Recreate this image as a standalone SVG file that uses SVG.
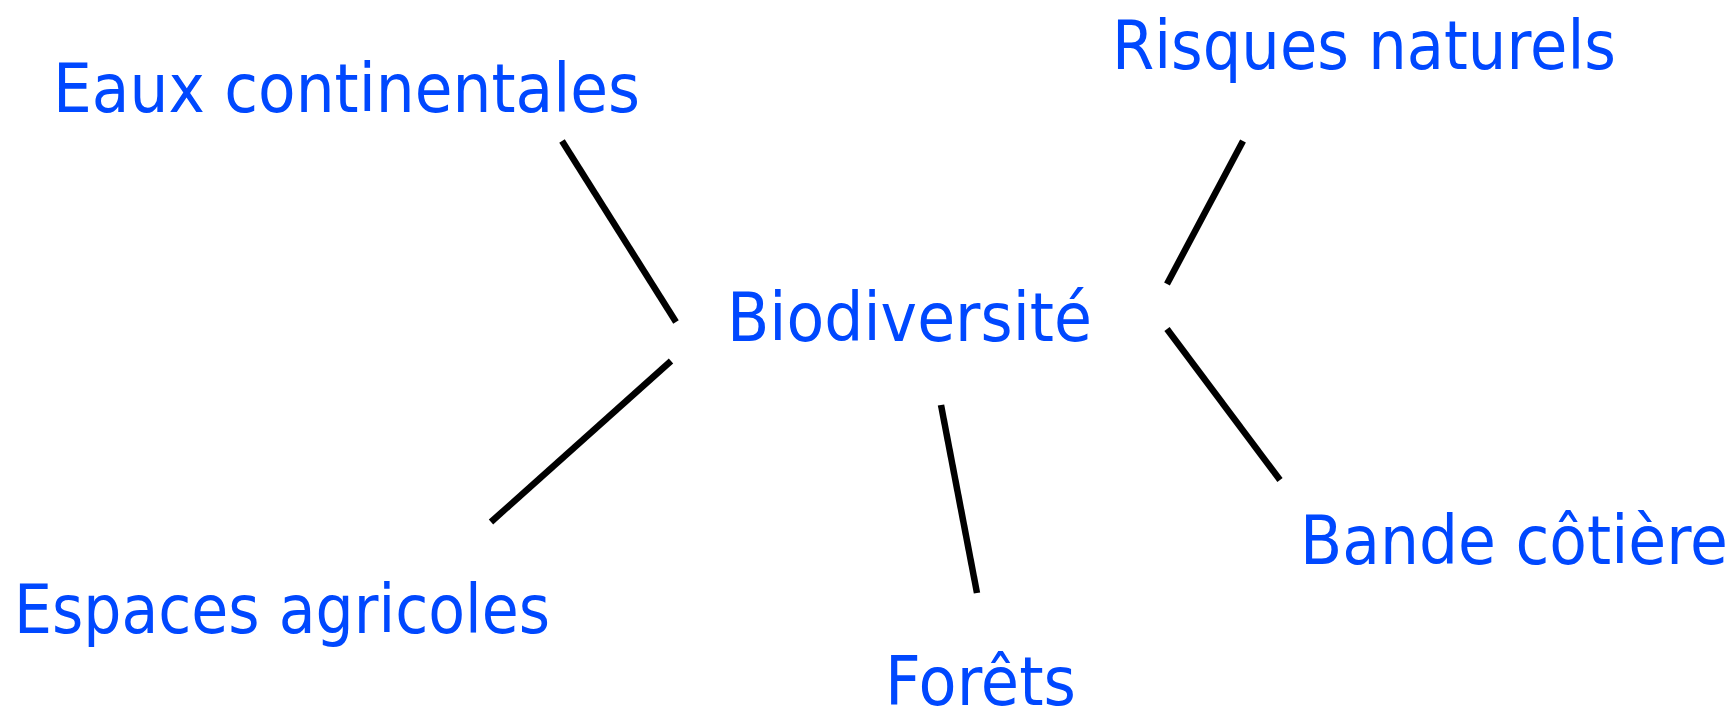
<svg xmlns="http://www.w3.org/2000/svg" width="1735" height="712" viewBox="0 0 1735 712">
<style>
.lbl{font-family:"DejaVu Sans","Liberation Sans",sans-serif;font-size:67px;fill:#0048ff}
.con line{stroke:#000;stroke-width:6.5;stroke-linecap:butt}
</style>
<rect width="1735" height="712" fill="#fff"/>
<g id="connectors" class="con">
<line x1="562" y1="141" x2="676" y2="322"/>
<line x1="1243" y1="141" x2="1167" y2="284"/>
<line x1="671" y1="361" x2="491" y2="522"/>
<line x1="1167" y1="329" x2="1280" y2="480"/>
<line x1="941" y1="405" x2="977" y2="593"/>
</g>
<g id="eaux"><text class="lbl" x="53" y="112" textLength="587" lengthAdjust="spacingAndGlyphs">Eaux continentales</text></g>
<g id="risques"><text class="lbl" x="1112" y="69" textLength="504" lengthAdjust="spacingAndGlyphs">Risques naturels</text></g>
<g id="biodiversite"><text class="lbl" x="727" y="341" textLength="365" lengthAdjust="spacingAndGlyphs">Biodiversité</text></g>
<g id="bande"><text class="lbl" x="1300" y="564" textLength="428" lengthAdjust="spacingAndGlyphs">Bande côtière</text></g>
<g id="espaces"><text class="lbl" x="14" y="633" textLength="536" lengthAdjust="spacingAndGlyphs">Espaces agricoles</text></g>
<g id="forets"><text class="lbl" x="885" y="705" textLength="191" lengthAdjust="spacingAndGlyphs">Forêts</text></g>
</svg>
